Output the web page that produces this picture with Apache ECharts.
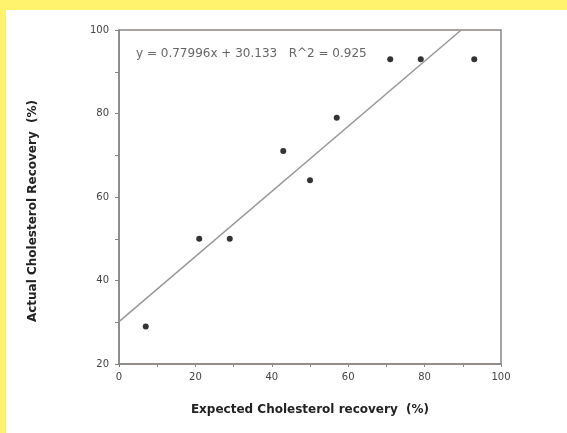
<!DOCTYPE html>
<html>
<head>
<meta charset="utf-8">
<script src="https://cdn.jsdelivr.net/npm/echarts@6/dist/echarts.min.js"></script>
<style>
  html, body { margin: 0; padding: 0; background: #fff36e; }
  #wrap { position: absolute; left: 6px; top: 10px; width: 561px; height: 423px; background: #fff; }
  #main { width: 561px; height: 423px; }
</style>
</head>
<body>
<div id="wrap"><div id="main"></div></div>
<script>
// expected vs actual cholesterol recovery (%)
var expected = [7, 21, 29, 43, 50, 57, 71, 79, 93]
var actual = [29, 50, 50, 71, 64, 79, 93, 93, 93]
var slope = 0.77996
var intercept = 30.133
var rSquared = 0.925
var xTicks = [0, 20, 40, 60, 80, 100]
var yTicks = [20, 40, 60, 80, 100]

var points = expected.map(function (x, i) { return [x, actual[i]] })
var yTop = yTicks[yTicks.length - 1]
var fitLine = [
  [0, intercept],
  [(yTop - intercept) / slope, yTop]
]

var chart = echarts.init(document.getElementById('main'))
var axisColor = '#8a8683'
var titleFont = 'bold 12px "DejaVu Sans"'
var option = {
  animation: false,
  grid: {
    left: 113, right: 66, top: 20, bottom: 69,
    show: true, borderColor: axisColor, borderWidth: 1.5
  },
  graphic: [{
    type: 'text',
    left: 130, top: 38,
    style: {
      text: 'y = ' + slope + 'x + ' + intercept + '   R^2 = ' + rSquared,
      font: '12px "DejaVu Sans"',
      fill: '#666'
    }
  }, {
    // y axis title, sits a little below the axis middle like the original
    type: 'text',
    x: 27, y: 201,
    rotation: Math.PI / 2,
    style: {
      text: 'Actual Cholesterol Recovery  (%)',
      font: titleFont,
      fill: '#222',
      align: 'center',
      verticalAlign: 'middle'
    }
  }],
  xAxis: {
    type: 'value',
    min: xTicks[0], max: xTicks[xTicks.length - 1], interval: 20,
    name: 'Expected Cholesterol recovery  (%)',
    nameLocation: 'middle', nameGap: 40,
    nameTextStyle: { fontFamily: 'DejaVu Sans', fontWeight: 'bold', fontSize: 12, color: '#222' },
    axisLine: { lineStyle: { color: axisColor, width: 1.5 } },
    axisTick: { length: 3, lineStyle: { color: axisColor } },
    minorTick: { show: true, splitNumber: 2, length: 3, lineStyle: { color: axisColor } },
    axisLabel: { fontFamily: 'DejaVu Sans', fontSize: 10, color: '#444', margin: 8 },
    splitLine: { show: false }
  },
  yAxis: {
    type: 'value',
    min: yTicks[0], max: yTop, interval: 20,
    axisLine: { lineStyle: { color: axisColor, width: 1.5 } },
    axisTick: { length: 4, lineStyle: { color: axisColor } },
    minorTick: { show: true, splitNumber: 2, length: 4, lineStyle: { color: axisColor } },
    axisLabel: { fontFamily: 'DejaVu Sans', fontSize: 10, color: '#444', margin: 10 },
    splitLine: { show: false }
  },
  series: [{
    type: 'line',
    data: fitLine,
    symbol: 'none',
    lineStyle: { color: '#9a9896', width: 1.5 }
  }, {
    type: 'scatter',
    data: points,
    symbol: 'circle',
    symbolSize: 6,
    itemStyle: { color: '#000' }
  }]
}
chart.setOption(option)
</script>
</body>
</html>
